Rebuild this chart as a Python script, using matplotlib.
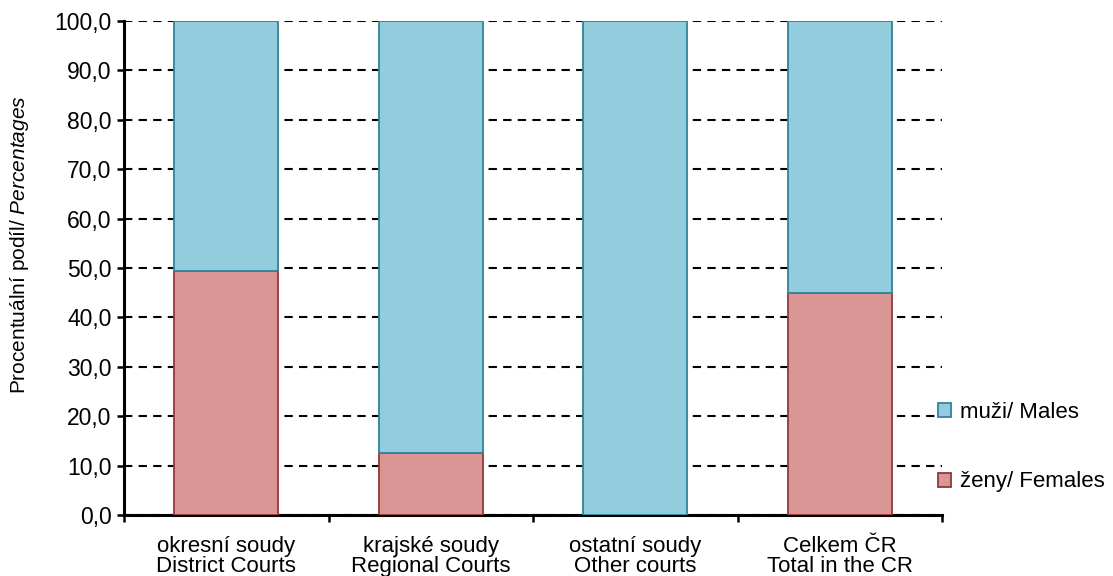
import matplotlib
matplotlib.use("Agg")
import matplotlib.pyplot as plt
import numpy as np

categories = ["okresní soudy\nDistrict Courts", "krajské soudy\nRegional Courts",
              "ostatní soudy\nOther courts", "Celkem ČR\nTotal in the CR"]
females = [49.4, 12.6, 0.0, 44.9]
males = [100 - v for v in females]
y_ticks = [0, 10, 20, 30, 40, 50, 60, 70, 80, 90, 100]
y_tick_labels = ["0,0", "10,0", "20,0", "30,0", "40,0", "50,0", "60,0", "70,0", "80,0", "90,0", "100,0"]

plt.rcParams['font.family'] = ['Liberation Sans', 'DejaVu Sans']
plt.rcParams['mathtext.fontset'] = 'custom'
plt.rcParams['mathtext.rm'] = 'Liberation Sans'
plt.rcParams['mathtext.it'] = 'Liberation Sans:italic'

fig = plt.figure(figsize=(11.13, 5.76), dpi=100)
ax = fig.add_axes([124/1113, 1 - 515/576, (942 - 124)/1113, (515 - 21)/576])

x = np.arange(len(categories))
fem_fill, fem_edge = "#D99694", "#953735"
male_fill, male_edge = "#93CDDD", "#31849B"

ax.bar(x, females, width=0.51, color=fem_fill, edgecolor=fem_edge, linewidth=1.3, zorder=3,
       label="ženy/ Females")
ax.bar(x, males, bottom=females, width=0.51, color=male_fill, edgecolor=male_edge, linewidth=1.3,
       zorder=3, label="muži/ Males")

ax.set_xlim(-0.5, len(categories) - 0.5)
ax.set_ylim(0, 100)
ax.set_yticks(y_ticks)
ax.set_yticklabels(y_tick_labels, fontsize=16.5)
ax.set_xticks(x)
ax.set_xticklabels(categories, fontsize=16, linespacing=0.95)
ax.tick_params(axis='x', length=0, pad=15)
ax.set_xticks(np.arange(len(categories) + 1) - 0.5, minor=True)
ax.tick_params(axis='x', which='minor', length=5, width=1.8, direction='out')
ax.tick_params(axis='y', length=5, width=1.8, direction='out', pad=4)

for s in ['top', 'right']:
    ax.spines[s].set_visible(False)
for s in ['left', 'bottom']:
    ax.spines[s].set_linewidth(2.2)
    ax.spines[s].set_color('black')

ax.yaxis.grid(True, color='black', linestyle=(0, (4, 3)), linewidth=1.5, zorder=0)
ax.set_axisbelow(True)

fig.text(20/1113, 0.575, r"Procentuální podíl/ $\mathit{Percentages}$", rotation=90,
         ha='center', va='center', fontsize=15)

handles, labels = ax.get_legend_handles_labels()
fig.legend(handles[::-1], labels[::-1], loc='center left', bbox_to_anchor=(938/1113, 1 - 447/576),
           frameon=False, fontsize=16, handlelength=0.6, handleheight=0.6, handletextpad=0.4,
           labelspacing=2.2, borderaxespad=0, borderpad=0)

fig.savefig("out.png", dpi=100)
